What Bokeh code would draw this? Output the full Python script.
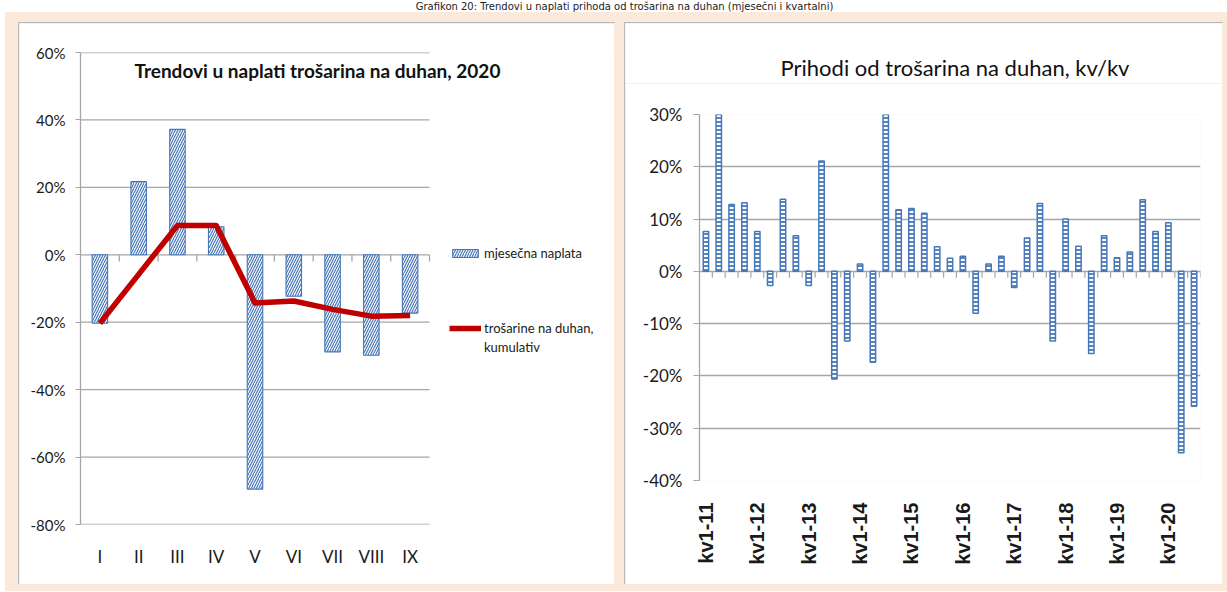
import numpy as np
from bokeh.plotting import figure
from bokeh.layouts import row, column
from bokeh.models import (FixedTicker, PrintfTickFormatter, Legend, LegendItem, Label,
                          Range1d, Spacer)
from bokeh.core.properties import value
from bokeh.embed import file_html
from bokeh.resources import INLINE

# ---------------- data ----------------
page_title = "Grafikon 20: Trendovi u naplati prihoda od trošarina na duhan (mjesečni i kvartalni)"

# left chart: monthly 2020
left_title = "Trendovi u naplati trošarina na duhan, 2020"
months = ["I", "II", "III", "IV", "V", "VI", "VII", "VIII", "IX"]
monthly = [-20.3, 21.7, 37.2, 8.3, -69.5, -12.3, -28.8, -29.8, -17.3]
cumulative = [-20.3, -5.8, 8.7, 8.7, -14.3, -13.7, -16.2, -18.2, -18.0]
left_series = ["mjesečna naplata", "trošarine na duhan,", "kumulativ"]
left_yticks = [-80, -60, -40, -20, 0, 20, 40, 60]

# right chart: quarterly y/y, kv1-11 .. kv3-20
right_title = "Prihodi od trošarina na duhan, kv/kv"
quarterly = [7.6, 30.0, 12.8, 13.1, 7.6, -2.7, 13.8, 6.8, -2.7, 21.1,
             -20.6, -13.3, 1.4, -17.4, 30.0, 11.8, 12.0, 11.1, 4.7, 2.5,
             2.9, -8.0, 1.4, 2.9, -3.1, 6.4, 13.0, -13.3, 10.0, 4.8,
             -15.7, 6.8, 2.6, 3.7, 13.7, 7.6, 9.3, -34.7, -25.8]
year_labels = ["kv1-11", "kv1-12", "kv1-13", "kv1-14", "kv1-15",
               "kv1-16", "kv1-17", "kv1-18", "kv1-19", "kv1-20"]
right_yticks = [-40, -30, -20, -10, 0, 10, 20, 30]

# ---------------- styles ----------------
PEACH = "#FBE9DC"
BLUE = "#4677B8"
RED = "#C00000"
GRID = "#A6A6A6"
TXT = "#1A1A1A"
FONT = "Lato"
SHADOW = {"box-shadow": "0 0 0 1px #b8b8b8, 2px 2px 2px #7a7a7a"}
bg = {"background-color": PEACH}
white = {"background-color": "white"}


def plain_fig(w, h, xr, yr, **kw):
    f = figure(width=w, height=h, x_range=Range1d(*xr), y_range=Range1d(*yr),
               min_border=0, toolbar_location=None, output_backend="svg", frame_align=False,
               border_fill_color="white", background_fill_color="white", outline_line_color=None, **kw)
    f.axis.visible = False
    f.grid.visible = False
    return f


# ---------------- top strip (page title) ----------------
pt = plain_fig(1227, 12, (0, 1227), (0, 12))
pt.text(x=[624], y=[6.5], text=[page_title], text_align="center", text_baseline="middle",
        text_font=value("DejaVu Sans"), text_font_size="10px", text_color="#222222")

# ---------------- left chart ----------------
xl = list(range(1, len(months) + 1))
L_W, L_LEFT, L_RIGHT = 595, 61, 4
cat_px = 349 / len(months)                      # pixel width of one month category
x_end = 0.5 + (L_W - L_LEFT - L_RIGHT) / cat_px  # room on the right for the legend
pl = figure(width=L_W, height=561, x_range=Range1d(0.5, x_end), y_range=Range1d(-80, 60),
            output_backend="svg", toolbar_location=None, frame_align=False,
            min_border_left=L_LEFT, min_border_right=L_RIGHT, min_border_top=29, min_border_bottom=60,
            background_fill_color="white", border_fill_color="white", outline_line_color=None,
            styles=SHADOW)
pl.grid.visible = False
# horizontal grid lines only across the category area
pl.segment(x0=[0.5] * len(left_yticks), x1=[len(months) + 0.5] * len(left_yticks),
           y0=left_yticks, y1=left_yticks, line_color=GRID, line_width=1.3)

pl.xaxis.ticker = FixedTicker(ticks=xl)
pl.xaxis.major_label_overrides = {x: m for x, m in zip(xl, months)}
pl.xaxis.axis_line_color = None
pl.xaxis.major_tick_line_color = None
pl.xaxis.minor_tick_line_color = None
pl.xaxis.major_label_standoff = 15
pl.xaxis.major_label_text_font = FONT
pl.xaxis.major_label_text_font_size = "17px"
pl.xaxis.major_label_text_color = TXT

pl.yaxis.ticker = FixedTicker(ticks=left_yticks)
pl.yaxis.formatter = PrintfTickFormatter(format="%d%%")
pl.yaxis.axis_line_color = GRID
pl.yaxis.axis_line_width = 1.3
pl.yaxis.major_tick_line_color = GRID
pl.yaxis.major_tick_out = 5
pl.yaxis.major_tick_in = 0
pl.yaxis.minor_tick_line_color = None
pl.yaxis.major_label_standoff = 10
pl.yaxis.major_label_text_font = FONT
pl.yaxis.major_label_text_font_size = "15px"
pl.yaxis.major_label_text_color = TXT

bounds_l = [x + 0.5 for x in xl]
pl.segment(x0=bounds_l, y0=[0] * len(bounds_l), x1=bounds_l, y1=[-2] * len(bounds_l),
           line_color=GRID, line_width=1.3)

bars_l = pl.vbar(x=xl, top=monthly, bottom=0, width=0.4, fill_color="white",
                 line_color=BLUE, line_width=1.1, hatch_pattern="/", hatch_color=BLUE,
                 hatch_scale=5, hatch_weight=1.2)
line_l = pl.line(x=xl, y=cumulative, line_color=RED, line_width=5.5, line_join="round")
blank_l = pl.line(x=[], y=[], line_alpha=0)   # carries the second line of the legend text

pl.add_layout(Label(x=6.61, y=54.6, text=left_title, text_align="center", text_baseline="middle",
                    text_font=FONT, text_font_style="bold", text_font_size="19px",
                    text_color="#111111"))

leg_style = dict(orientation="vertical", glyph_width=32, glyph_height=10, label_standoff=3,
                 padding=0, margin=0, border_line_color=None, background_fill_alpha=0,
                 label_text_font=FONT, label_text_font_size="13px", label_text_color=TXT)
legend1 = Legend(items=[LegendItem(label=left_series[0], renderers=[bars_l]),
                        LegendItem(label=left_series[1], renderers=[line_l])],
                 location=(369, 188), spacing=59, **leg_style)
legend2 = Legend(items=[LegendItem(label=left_series[2], renderers=[blank_l])],
                 location=(369, 169), spacing=0, **leg_style)
pl.add_layout(legend1)
pl.add_layout(legend2)

# ---------------- right chart ----------------
R_W = 597
rt = plain_fig(R_W, 60, (0, R_W), (0, 60))
rt.text(x=[329.5], y=[16], text=[right_title], text_align="center", text_baseline="middle",
        text_font=value(FONT), text_font_size="22px", text_color="#111111")

xq = list(range(1, len(quarterly) + 1))
tick_q = xq[::4]
pr = figure(width=R_W, height=501, x_range=Range1d(0.5, len(quarterly) + 0.5), y_range=Range1d(-40, 30),
            output_backend="svg", toolbar_location=None, frame_align=False,
            min_border_left=74, min_border_right=22, min_border_top=31, min_border_bottom=104,
            background_fill_color="white", border_fill_color="white", outline_line_color=None)

pr.xgrid.visible = False
pr.ygrid.ticker = FixedTicker(ticks=right_yticks)
pr.ygrid.grid_line_color = GRID
pr.ygrid.grid_line_width = 1.3

pr.xaxis.ticker = FixedTicker(ticks=tick_q)
pr.xaxis.major_label_overrides = {x: lab for x, lab in zip(tick_q, year_labels)}
pr.xaxis.major_label_orientation = np.pi / 2
pr.xaxis.axis_line_color = None
pr.xaxis.major_tick_line_color = None
pr.xaxis.minor_tick_line_color = None
pr.xaxis.major_label_standoff = 16
pr.xaxis.major_label_text_font = "Liberation Sans"
pr.xaxis.major_label_text_font_style = "bold"
pr.xaxis.major_label_text_font_size = "20px"
pr.xaxis.major_label_text_color = TXT

pr.yaxis.ticker = FixedTicker(ticks=right_yticks)
pr.yaxis.formatter = PrintfTickFormatter(format="%d%%")
pr.yaxis.axis_line_color = GRID
pr.yaxis.axis_line_width = 1.3
pr.yaxis.major_tick_line_color = GRID
pr.yaxis.major_tick_out = 6
pr.yaxis.major_tick_in = 0
pr.yaxis.minor_tick_line_color = None
pr.yaxis.major_label_standoff = 11
pr.yaxis.major_label_text_font = FONT
pr.yaxis.major_label_text_font_size = "17px"
pr.yaxis.major_label_text_color = TXT

bounds_q = [x + 0.5 for x in xq]
pr.segment(x0=bounds_q, y0=[0] * len(bounds_q), x1=bounds_q, y1=[-1.2] * len(bounds_q),
           line_color=GRID, line_width=1.2)

pr.vbar(x=xq, top=quarterly, bottom=0, width=0.42, fill_color="white",
        line_color=BLUE, line_width=1.5, hatch_pattern="horizontal_line", hatch_color=BLUE,
        hatch_scale=4, hatch_weight=1.8)

right_panel = column(rt, pr, styles=SHADOW)

# ---------------- layout ----------------
panels = row(Spacer(width=14, height=561, styles=bg), pl,
             Spacer(width=11, height=561, styles=bg), right_panel,
             Spacer(width=5, height=561, styles=bg), styles=bg)
body = column(Spacer(width=1222, height=11, styles=bg), panels,
              Spacer(width=1222, height=7, styles=bg), styles=bg)
layout = column(pt, row(Spacer(width=5, height=579, styles=white), body))

open("out.html", "w").write(file_html(layout, INLINE))
